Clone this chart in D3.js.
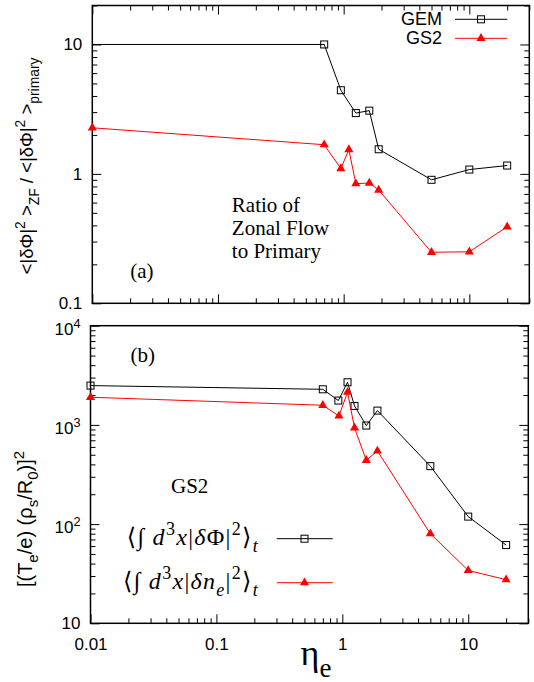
<!DOCTYPE html>
<html>
<head>
<meta charset="utf-8">
<script src="https://cdn.jsdelivr.net/npm/d3@7"></script>
<style>
  html, body { margin: 0; padding: 0; background: #fff; }
  svg { display: block; }
</style>
</head>
<body>
<div id="chart"></div>
<script>
// eta_e values and series

// (a) ratio of zonal flow to primary
const etaGemA = [0.005, 0.7, 0.95, 1.25, 1.6, 1.9, 5, 10, 20];
const gemA    = [10, 10, 4.43, 2.95, 3.08, 1.55, 0.90, 1.08, 1.16];
const etaGs2A = [0.01, 0.7, 0.95, 1.1, 1.25, 1.6, 1.9, 5, 10, 20];
const gs2A    = [2.27, 1.68, 1.10, 1.54, 0.84, 0.85, 0.75, 0.248, 0.25, 0.39];

// (b) GS2 field energies
const etaPhiB = [0.01, 0.7, 0.93, 1.1, 1.25, 1.55, 1.9, 5, 10, 20];
const phiB    = [2490, 2285, 1760, 2690, 1552, 985, 1393, 384, 119, 61.5];
const etaNeB  = [0.01, 0.7, 0.94, 1.1, 1.25, 1.55, 1.9, 5, 10, 20];
const neB     = [1900, 1578, 1230, 2135, 933, 440, 547, 80, 34.1, 27.5];

const xDomain = [0.01, 30];
const yDomainA = [0.1, 20];
const yDomainB = [10, 10000];
const xTickLabels = ["0.01", "0.1", "1", "10"];
const legendA = ["GEM", "GS2"];

const RED = "#ff0000";
const SANS = '"Liberation Sans", Arial, Helvetica, sans-serif';
const SERIF = '"Liberation Serif", "Times New Roman", Times, "DejaVu Serif", serif';
const W = 534, H = 682;

const svg = d3.select("#chart").append("svg")
    .attr("width", W)
    .attr("height", H);

const isMajor = v => Math.abs(Math.log10(v) - Math.round(Math.log10(v))) < 1e-9;

// text with sub/superscripts: parts = [[text, kind, italic]]
function rich(sel, parts, size) {
    let shift = 0;
    parts.forEach(([s, k, it]) => {
        const target = k === "sup" ? -0.42 * size : k === "sub" ? 0.32 * size : 0;
        const t = sel.append("tspan")
            .style("font-size", (k ? size * 0.75 : size) + "px")
            .text(s);
        if (target - shift !== 0) t.attr("dy", target - shift);
        if (it) t.style("font-style", "italic");
        shift = target;
    });
}

function drawPanel(p) {
    const g = svg.append("g").attr("transform", `translate(${p.left},${p.top})`);
    const x = d3.scaleLog().domain(xDomain).range([0, p.width]);
    const y = d3.scaleLog().domain(p.yDomain).range([p.height, 0]);

    const xt = x.ticks(), yt = y.ticks();
    const xMinor = xt.filter(v => !isMajor(v)), xMajor = xt.filter(isMajor);
    const yMinor = yt.filter(v => !isMajor(v)), yMajor = yt.filter(isMajor);

    // makeAxis: () => fresh d3 axis
    function ticks(makeAxis, minor, major, transform, withLabels, padding) {
        const a = g.append("g").attr("transform", transform);
        a.call(makeAxis().tickValues(minor).tickSizeInner(-5).tickSizeOuter(0).tickFormat(""));
        const b = g.append("g").attr("transform", transform);
        b.call(makeAxis().tickValues(major).tickSizeInner(-9).tickSizeOuter(0)
            .tickPadding(padding || 3)
            .tickFormat(withLabels || (() => "")));
        [a, b].forEach(s => {
            s.select(".domain").remove();
            s.selectAll("line").attr("stroke", "#000");
        });
        return b;
    }

    // bottom x
    const bx = ticks(() => d3.axisBottom(x), xMinor, xMajor, `translate(0,${p.height})`,
        p.xLabels ? ((d, i) => xTickLabels[i]) : null, 15);
    bx.selectAll("text").style("font-family", SANS).style("font-size", "17px").attr("fill", "#000");
    if (p.topTicks) ticks(() => d3.axisTop(x), xMinor, xMajor, "translate(0,0)");

    // left y
    const ly = ticks(() => d3.axisLeft(y), yMinor, yMajor, "translate(0,0)", d => d, 10);
    ly.selectAll("text").style("font-family", SANS).style("font-size", "17px").attr("fill", "#000")
        .each(function (d) {
            const el = d3.select(this);
            el.text(null);
            p.yFormat(el, d);
        });
    ticks(() => d3.axisRight(y), yMinor, yMajor, `translate(${p.width},0)`);

    // frame
    g.append("rect")
        .attr("width", p.width).attr("height", p.height)
        .attr("fill", "none").attr("stroke", "#000").attr("stroke-width", 1.5);

    const clipId = "clip-" + p.id;
    g.append("clipPath").attr("id", clipId)
        .append("rect").attr("width", p.width).attr("height", p.height);

    const line = d3.line().x(d => x(d[0])).y(d => y(d[1]));
    p.series.forEach(s => {
        const pts = s.eta.map((e, i) => [e, s.vals[i]]);
        g.append("path").datum(pts)
            .attr("fill", "none").attr("stroke", s.color).attr("stroke-width", 1)
            .attr("clip-path", `url(#${clipId})`)
            .attr("d", line);
        const inside = pts.filter(d => d[0] >= xDomain[0]);
        drawMarkers(g, inside.map(d => [x(d[0]), y(d[1])]), s.marker, s.color);
    });
    return { g, x, y };
}

function drawMarkers(g, xy, kind, color) {
    if (kind === "square") {
        g.selectAll(null).data(xy).enter().append("rect")
            .attr("x", d => d[0] - 3.5).attr("y", d => d[1] - 3.5)
            .attr("width", 7).attr("height", 7)
            .attr("fill", "none").attr("stroke", color).attr("stroke-width", 1);
    } else {
        const tri = d3.symbol().type(d3.symbolTriangle).size(36);
        g.selectAll(null).data(xy).enter().append("path")
            .attr("d", tri)
            .attr("transform", d => `translate(${d[0]},${d[1]})`)
            .attr("fill", color);
    }
}

function label(parent, x, y, txt, family, size) {
    return parent.append("text").attr("x", x).attr("y", y)
        .style("font-family", family).style("font-size", size + "px").text(txt);
}

// ---- panel (a) ----
const A = drawPanel({
    id: "a", left: 92.3, top: 5.5, width: 437, height: 297.8,
    yDomain: yDomainA, topTicks: true, xLabels: false,
    yFormat: (el, d) => el.text(d >= 1 ? d3.format("d")(d) : "0.1"),
    series: [
        { eta: etaGemA, vals: gemA, color: "#000", marker: "square" },
        { eta: etaGs2A, vals: gs2A, color: RED, marker: "triangle" }
    ]
});

// legend (a)
const legA = svg.append("g");
[["#000", "square", 19.3], [RED, "triangle", 38.3]].forEach(([c, m, ly], i) => {
    legA.append("line").attr("x1", 455).attr("x2", 507.3).attr("y1", ly).attr("y2", ly)
        .attr("stroke", c).attr("stroke-width", 1);
    drawMarkers(legA, [[481, ly]], m, c);
    label(legA, 442, ly + 6, legendA[i], SANS, 18).attr("text-anchor", "end");
});

label(A.g, 38, 272, "(a)", SERIF, 21);
const ratio = A.g.append("text").style("font-family", SERIF).style("font-size", "21px");
["Ratio of", "Zonal Flow", "to Primary"].forEach((s, i) => {
    ratio.append("tspan").attr("x", 139.5).attr("y", 206 + i * 23.2).text(s);
});

// y label (a)
const ylabA = svg.append("text")
    .attr("transform", "translate(33,166) rotate(-90)")
    .attr("text-anchor", "middle").style("font-family", SANS).style("font-size", "18.5px");
rich(ylabA, [["<|δΦ|"], ["2", "sup"], [" >"], ["ZF", "sub"], [" / <|δΦ|"],
             ["2", "sup"], [" >"], ["primary", "sub"]], 18.5);

// ---- panel (b) ----
const B = drawPanel({
    id: "b", left: 90.5, top: 325.7, width: 437.8, height: 297.6,
    yDomain: yDomainB, topTicks: false, xLabels: true,
    yFormat: (el, d) => {
        const e = Math.round(Math.log10(d));
        if (e === 1) el.text("10");
        else { el.attr("dy", "0.5em"); rich(el, [["10"], [String(e), "sup"]], 17); }
    },
    series: [
        { eta: etaPhiB, vals: phiB, color: "#000", marker: "square" },
        { eta: etaNeB, vals: neB, color: RED, marker: "triangle" }
    ]
});

label(B.g, 40, 36, "(b)", SERIF, 21);
label(B.g, 80.5, 167, "GS2", SERIF, 21);

// legend (b): formulas
const formulas = [
    [["⟨"], ["∫  "], ["d", null, true], ["3", "sup"], ["x", null, true], ["|"], ["δ", null, true],
     ["Φ"], ["|"], ["2", "sup"], ["⟩"], ["t", "sub", true]],
    [["⟨"], ["∫  "], ["d", null, true], ["3", "sup"], ["x", null, true], ["|"], ["δn", null, true],
     ["e", "sub", true], ["|"], ["2", "sup"], ["⟩"], ["t", "sub", true]]
];
[["#000", "square", 538.7], [RED, "triangle", 582.7]].forEach(([c, m, ly], i) => {
    svg.append("line").attr("x1", 276.7).attr("x2", 332.7).attr("y1", ly).attr("y2", ly)
        .attr("stroke", c).attr("stroke-width", 1);
    drawMarkers(svg, [[304.5, ly]], m, c);
    const t = svg.append("text").attr("x", 259).attr("y", ly + 6)
        .attr("text-anchor", "end").style("letter-spacing", "1.3px")
        .style("font-family", SERIF).style("font-size", "24px");
    rich(t, formulas[i], 24);
});

// y label (b)
const ylabB = svg.append("text")
    .attr("transform", "translate(32,519) rotate(-90)")
    .attr("text-anchor", "middle").style("font-family", SANS).style("font-size", "20px");
rich(ylabB, [["[(T"], ["e", "sub"], ["/e) (ρ"], ["s", "sub"], ["/R"], ["0", "sub"],
             [")]"], ["2", "sup"]], 20);

// x label
const xl = svg.append("text")
    .attr("x", 316).attr("y", 665).attr("text-anchor", "middle")
    .style("font-family", SERIF).style("font-size", "36px");
rich(xl, [["η"], ["e", "sub"]], 36);
</script>
</body>
</html>
